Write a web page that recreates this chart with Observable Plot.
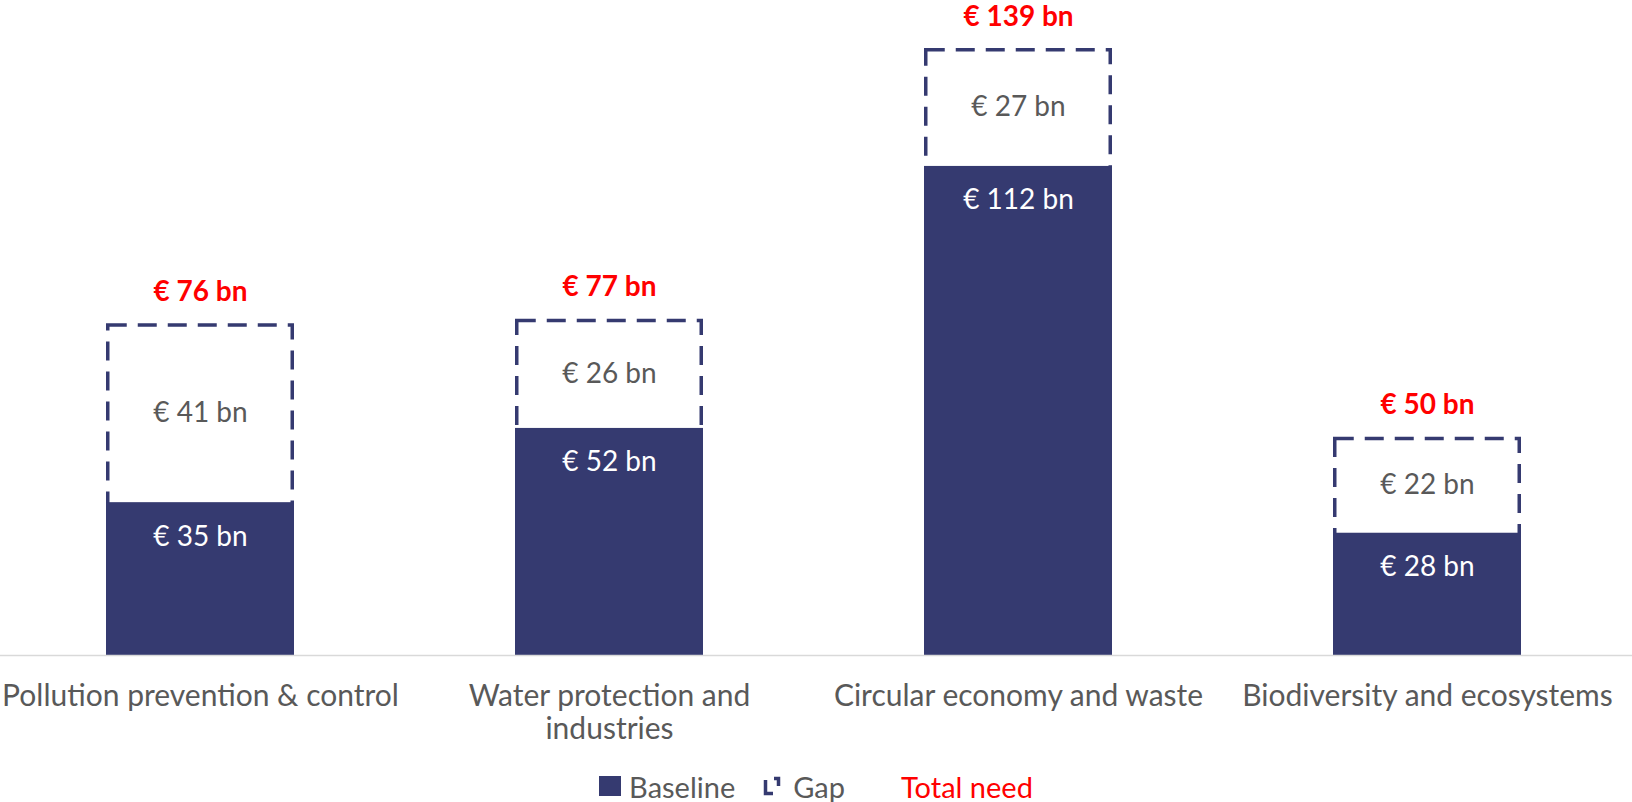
<!DOCTYPE html>
<html>
<head>
<meta charset="utf-8">
<script src="https://cdn.jsdelivr.net/npm/d3@7"></script>
<script src="https://cdn.jsdelivr.net/npm/@observablehq/plot@0.6"></script>
<style>
  html, body { margin: 0; padding: 0; background: #fff; }
  #legend { display: flex; justify-content: center; align-items: center; height: 52px; line-height: 1;
    font-family: Lato, sans-serif; font-size: 29px; color: #595959; }
  #legend .sw { width: 22px; height: 20px; background: #353a70; margin-right: 8px; }
  #legend .gapicon { margin-left: 28px; margin-right: 12px; }
  #legend .total { color: #ff0000; margin-left: 56px; }
</style>
</head>
<body>
<div id="chart"></div>
<div id="legend">
  <div class="sw"></div><span>Baseline</span>
  <svg class="gapicon" width="18" height="20" viewBox="0 0 18 20"><path d="M2.5 4 V17.5 H10 M11 2.5 H15.5 V10" fill="none" stroke="#353a70" stroke-width="3.5"/></svg><span>Gap</span>
  <span class="total">Total need</span>
</div>
<script>
const categories = ["Pollution prevention & control", "Water protection and\nindustries", "Circular economy and waste", "Biodiversity and ecosystems"];
const baseline = [35, 52, 112, 28];
const gap = [41, 26, 27, 22];
const total = [76, 77, 139, 50];

const navy = "#353a70";
const data = categories.map((c, i) => ({category: c, baseline: baseline[i], gap: gap[i], total: total[i]}));

const chart = Plot.plot({
  width: 1632,
  height: 760,
  marginTop: 0,
  marginBottom: 105,
  marginLeft: 0,
  marginRight: 4,
  style: {fontFamily: "Lato, sans-serif", background: "white", overflow: "visible"},
  x: {domain: categories, paddingInner: 0.54, paddingOuter: 0.259, label: null},
  y: {domain: [0, 150], axis: null},
  marks: [
    Plot.barY(data, {x: "category", y1: 0, y2: "total", fill: "none", stroke: navy, strokeWidth: 3.5, strokeDasharray: "19,11", inset: 1.75}),
    Plot.barY(data, {x: "category", y: "baseline", fill: navy}),
    Plot.ruleY([0], {stroke: "#d9d9d9", strokeWidth: 1.5, insetRight: -4}),
    Plot.axisX({tickSize: 0, tickPadding: 26, fontSize: 30, lineHeight: 1.13, fill: "#595959", label: null}),
    Plot.text(data, {x: "category", y: "baseline", dy: 34, text: d => `€ ${d.baseline} bn`, fill: "white", fontSize: 28}),
    Plot.text(data, {x: "category", y: d => (d.baseline + d.total) / 2, text: d => `€ ${d.gap} bn`, fill: "#595959", fontSize: 28}),
    Plot.text(data, {x: "category", y: "total", dy: -32, text: d => `€ ${d.total} bn`, fill: "#ff0000", fontSize: 28, fontWeight: "bold"})
  ]
});
document.getElementById("chart").appendChild(chart);
</script>
</body>
</html>
